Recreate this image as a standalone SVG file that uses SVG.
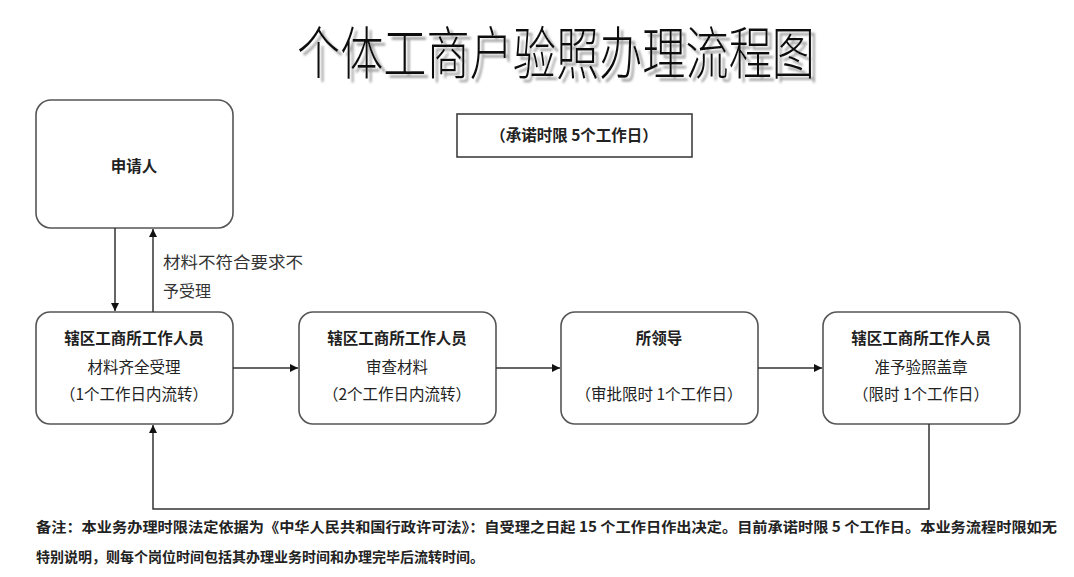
<svg xmlns="http://www.w3.org/2000/svg" width="1074" height="577" viewBox="0 0 1074 577">
<defs>
<marker id="ah" viewBox="0 0 10 10" refX="10" refY="5" markerWidth="8" markerHeight="8" markerUnits="userSpaceOnUse" orient="auto">
<path d="M0,0 L10,5 L0,10 z" fill="#111"/>
</marker>
<filter id="shadow" x="-5%" y="-20%" width="110%" height="150%">
<feDropShadow dx="4" dy="3" stdDeviation="0.8" flood-color="#999" flood-opacity="0.9"/>
</filter>
</defs>
<style>
.node{fill:#fff;stroke:#555;stroke-width:1.6}
.t{font-family:"Noto Sans CJK SC","Liberation Sans",sans-serif;font-size:15.5px;fill:#222;text-anchor:middle}
.b{font-weight:bold}
.c{fill:none;stroke:#333;stroke-width:1.5}
.lbl{font-family:"Noto Sans CJK SC","Liberation Sans",sans-serif;font-size:16px;fill:#333}
.note{font-family:"Noto Sans CJK SC","Liberation Sans",sans-serif;font-size:14px;font-weight:bold;fill:#222}
.title{font-family:"Noto Sans CJK SC","Liberation Serif",serif;font-size:44px;font-weight:300;text-anchor:middle}
</style>
<rect width="1074" height="577" fill="#fff"/>
<g id="title">
<text class="title" fill="#111" filter="url(#shadow)" transform="translate(556,74) scale(1,1.3)" textLength="518" lengthAdjust="spacingAndGlyphs">个体工商户验照办理流程图</text>
</g>
<g id="applicant">
<rect class="node" x="36" y="100" width="197" height="128" rx="15"/>
<text class="t b" x="134" y="172">申请人</text>
</g>
<g id="limit">
<rect x="457" y="114" width="235" height="43" fill="#fff" stroke="#333" stroke-width="1.5"/>
<text class="t b" x="574" y="141">（承诺时限 5个工作日）</text>
</g>
<g id="n1">
<rect class="node" x="36" y="312" width="197" height="112" rx="14"/>
<text class="t b" x="134" y="344">辖区工商所工作人员</text>
<text class="t" x="134" y="373">材料齐全受理</text>
<text class="t" x="134" y="400">（1个工作日内流转）</text>
</g>
<g id="n2">
<rect class="node" x="299" y="312" width="197" height="112" rx="14"/>
<text class="t b" x="397" y="344">辖区工商所工作人员</text>
<text class="t" x="397" y="373">审查材料</text>
<text class="t" x="397" y="400">（2个工作日内流转）</text>
</g>
<g id="n3">
<rect class="node" x="561" y="312" width="197" height="112" rx="14"/>
<text class="t b" x="659" y="344">所领导</text>
<text class="t" x="659" y="400">（审批限时 1个工作日）</text>
</g>
<g id="n4">
<rect class="node" x="823" y="312" width="197" height="112" rx="14"/>
<text class="t b" x="921" y="344">辖区工商所工作人员</text>
<text class="t" x="921" y="373">准予验照盖章</text>
<text class="t" x="921" y="400">（限时 1个工作日）</text>
</g>
<g id="connectors">
<line class="c" x1="115" y1="228" x2="115" y2="311" marker-end="url(#ah)"/>
<line class="c" x1="153" y1="312" x2="153" y2="229" marker-end="url(#ah)"/>
<line class="c" x1="233" y1="368" x2="298" y2="368" marker-end="url(#ah)"/>
<line class="c" x1="496" y1="368" x2="560" y2="368" marker-end="url(#ah)"/>
<line class="c" x1="758" y1="368" x2="822" y2="368" marker-end="url(#ah)"/>
<polyline class="c" points="929,424 929,509 153,509 153,425" marker-end="url(#ah)"/>
<text class="lbl" x="163" y="268" textLength="140" lengthAdjust="spacingAndGlyphs">材料不符合要求不</text>
<text class="lbl" x="163" y="297">予受理</text>
</g>
<g id="footnote">
<text class="note" x="36" y="532" textLength="1021" lengthAdjust="spacingAndGlyphs">备注：本业务办理时限法定依据为《中华人民共和国行政许可法》：自受理之日起 15 个工作日作出决定。目前承诺时限 5 个工作日。本业务流程时限如无</text>
<text class="note" x="36" y="562">特别说明，则每个岗位时间包括其办理业务时间和办理完毕后流转时间。</text>
</g>
</svg>
